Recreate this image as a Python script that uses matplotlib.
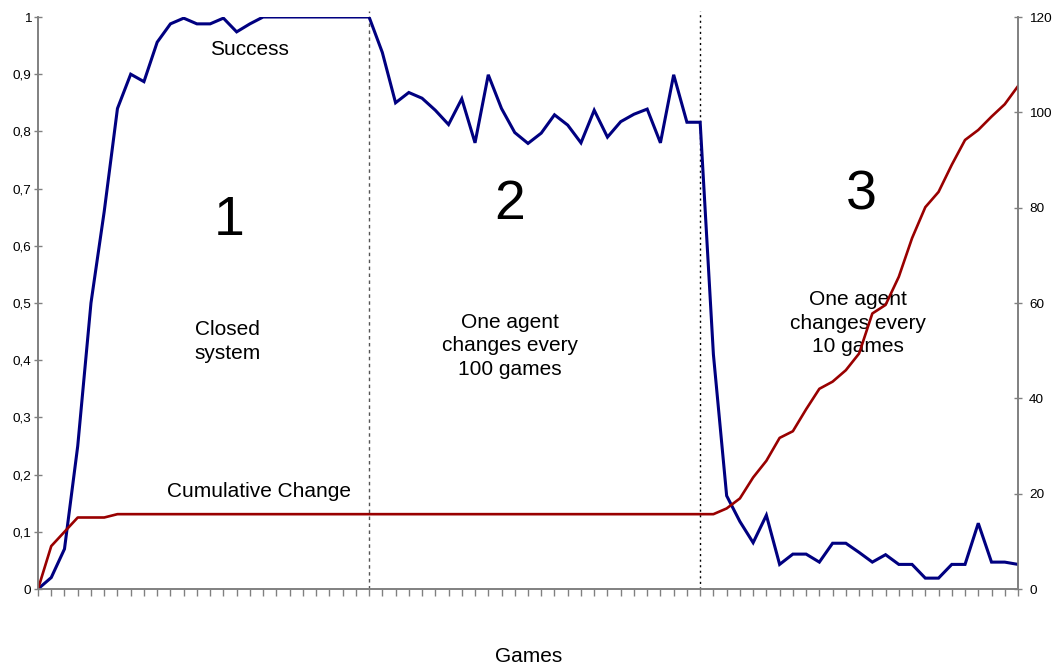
import matplotlib
matplotlib.use("Agg")
import matplotlib.pyplot as plt
from matplotlib.ticker import FixedLocator, FixedFormatter

plt.rcParams['font.family'] = ['Liberation Sans', 'DejaVu Sans']

# ---- data ----
games = list(range(75))
success = [0.0, 0.02, 0.07, 0.25, 0.50, 0.66, 0.84, 0.90, 0.887, 0.956,
           0.988, 0.998, 0.988, 0.988, 0.998, 0.974, 0.988, 1.0, 1.0, 1.0,
           1.0, 1.0, 1.0, 1.0, 1.0, 1.0, 0.938, 0.85, 0.868, 0.858,
           0.837, 0.812, 0.857, 0.78, 0.899, 0.84, 0.798, 0.779, 0.797, 0.829,
           0.811, 0.78, 0.837, 0.79, 0.817, 0.83, 0.839, 0.78, 0.899, 0.816,
           0.816, 0.41, 0.163, 0.118, 0.081, 0.129, 0.043, 0.061, 0.061, 0.047,
           0.08, 0.08, 0.064, 0.047, 0.06, 0.043, 0.043, 0.019, 0.019, 0.043,
           0.043, 0.115, 0.047, 0.047, 0.043]
cumulative = [0.0, 9.0, 12.0, 15.0, 15.0, 15.0, 15.7, 15.7, 15.7, 15.7,
              15.7, 15.7, 15.7, 15.7, 15.7, 15.7, 15.7, 15.7, 15.7, 15.7,
              15.7, 15.7, 15.7, 15.7, 15.7, 15.7, 15.7, 15.7, 15.7, 15.7,
              15.7, 15.7, 15.7, 15.7, 15.7, 15.7, 15.7, 15.7, 15.7, 15.7,
              15.7, 15.7, 15.7, 15.7, 15.7, 15.7, 15.7, 15.7, 15.7, 15.7,
              15.7, 15.7, 16.9, 19.0, 23.4, 26.9, 31.7, 33.1, 37.7, 42.0,
              43.5, 45.9, 49.4, 57.8, 59.6, 65.5, 73.6, 80.1, 83.3, 89.0,
              94.2, 96.3, 99.1, 101.7, 105.5]
phase_bounds = [25, 50]
left_ticks = [0, 0.1, 0.2, 0.3, 0.4, 0.5, 0.6, 0.7, 0.8, 0.9, 1.0]
left_labels = ['0', '0,1', '0,2', '0,3', '0,4', '0,5', '0,6', '0,7', '0,8', '0,9', '1']
right_ticks = [0, 20, 40, 60, 80, 100, 120]
right_labels = ['0', '20', '40', '60', '80', '100', '120']

BLUE = '#000080'
RED = '#990000'
GRAY = '#808080'

fig = plt.figure(figsize=(10.59, 6.70), dpi=100)
ax = fig.add_axes([38/1059, 1-589/670, (1018-38)/1059, (589-17)/670])
ax2 = ax.twinx()

ax.plot(games, success, color=BLUE, lw=2.2, solid_joinstyle='miter', zorder=3)
ax2.plot(games, cumulative, color=RED, lw=1.9, zorder=2)

ax.set_xlim(0, 74)
ax.set_ylim(0, 1)
ax2.set_ylim(0, 120)

# phase separators
ax.axvline(phase_bounds[0], ymin=0, ymax=1.01, color='#555555', lw=1.0,
           linestyle=(0, (2.5, 2.5)), clip_on=False, zorder=1)
ax.axvline(phase_bounds[1], ymin=0, ymax=1.01, color='black', lw=1.0,
           linestyle=(0, (1.5, 2.5)), clip_on=False, zorder=1)

for a in (ax, ax2):
    a.spines['top'].set_visible(False)
    for s in ('left', 'right', 'bottom'):
        a.spines[s].set_color(GRAY)
        a.spines[s].set_linewidth(1.2)

ax.yaxis.set_major_locator(FixedLocator(left_ticks))
ax.yaxis.set_major_formatter(FixedFormatter(left_labels))
ax2.yaxis.set_major_locator(FixedLocator(right_ticks))
ax2.yaxis.set_major_formatter(FixedFormatter(right_labels))
ax.set_xticks(games)
ax.set_xticklabels([])

ax.tick_params(axis='y', direction='inout', length=6, width=1, color=GRAY,
               labelsize=9.7, pad=2)
ax2.tick_params(axis='y', direction='inout', length=6, width=1, color=GRAY,
                labelsize=9.7, pad=5)
ax.tick_params(axis='x', direction='out', length=5, width=1, color=GRAY)

fs = 15
ls = 1.32
ax.text(15.94, 0.944, 'Success', fontsize=fs, ha='center', va='center')
ax.text(16.7, 0.171, 'Cumulative Change', fontsize=fs, ha='center', va='center')
ax.text(14.4, 0.643, '1', fontsize=40, ha='center', va='center')
ax.text(35.65, 0.671, '2', fontsize=40, ha='center', va='center')
ax.text(62.2, 0.688, '3', fontsize=40, ha='center', va='center')
ax.text(14.3, 0.432, 'Closed\nsystem', fontsize=fs, ha='center', va='center',
        linespacing=ls)
ax.text(35.65, 0.425, 'One agent\nchanges every\n100 games', fontsize=fs,
        ha='center', va='center', linespacing=ls)
ax.text(61.9, 0.465, 'One agent\nchanges every\n10 games', fontsize=fs,
        ha='center', va='center', linespacing=ls)
fig.text(529/1059, 1-656/670, 'Games', fontsize=fs, ha='center', va='center')

fig.savefig('out.png', dpi=100)
